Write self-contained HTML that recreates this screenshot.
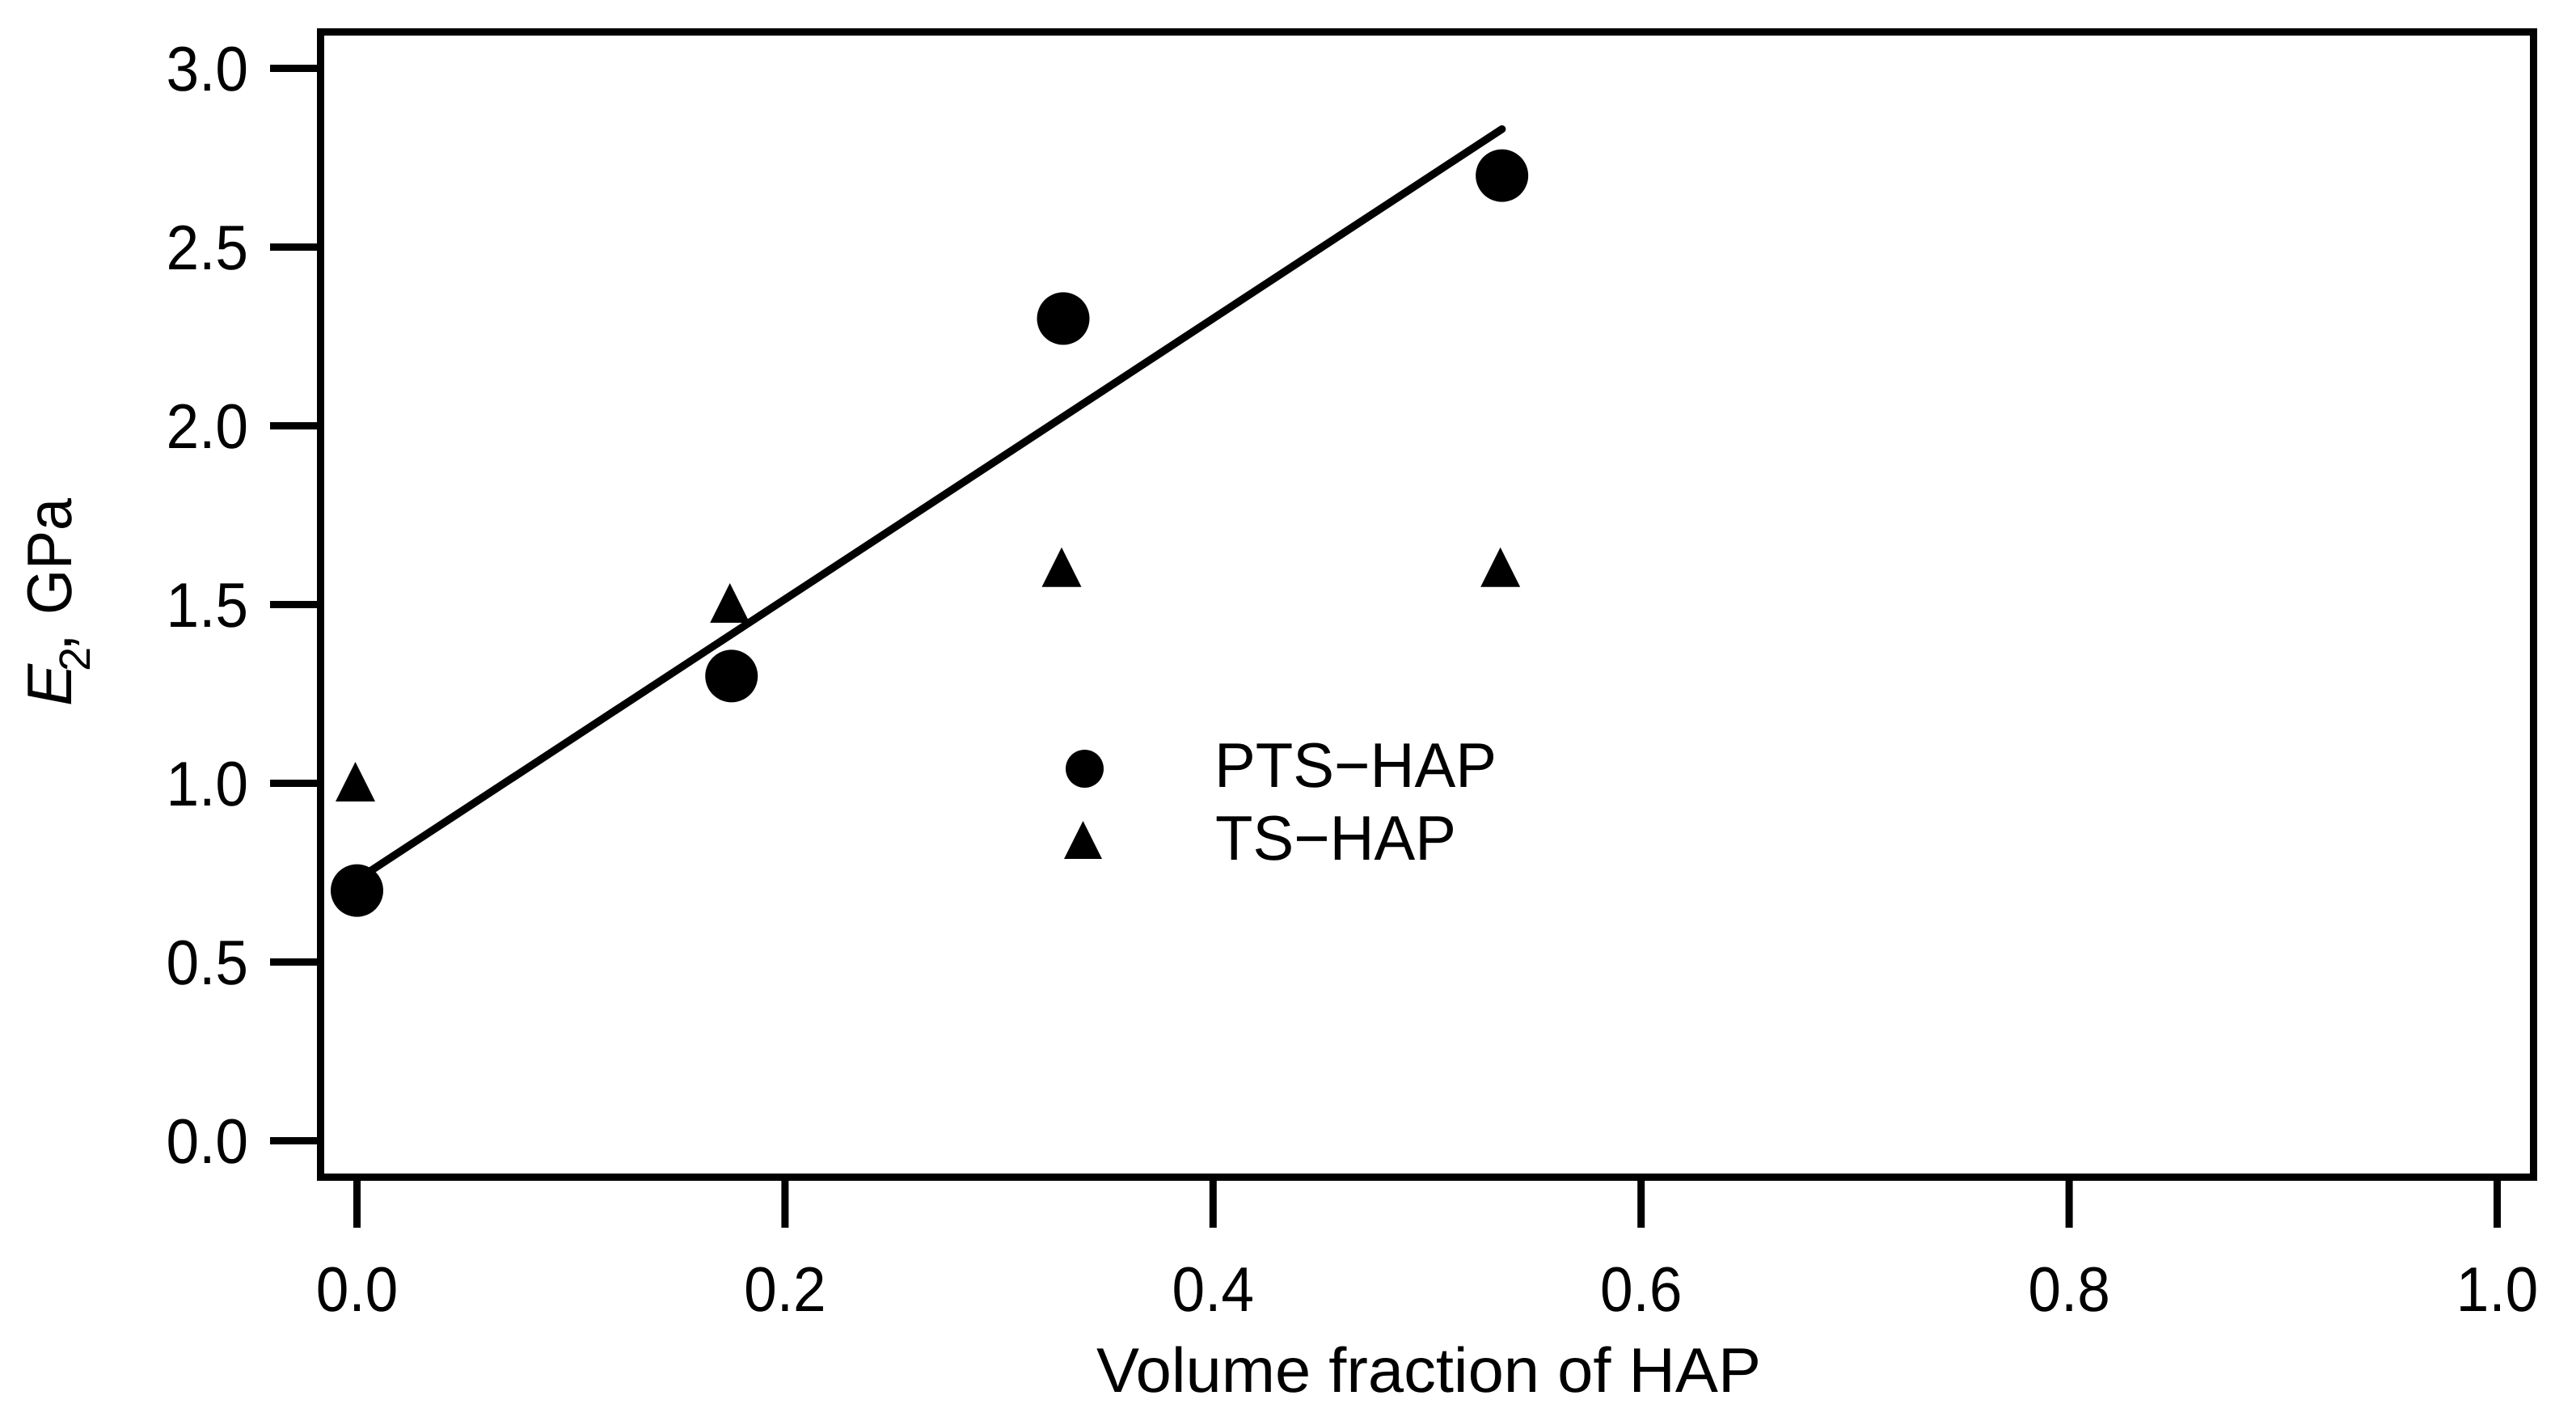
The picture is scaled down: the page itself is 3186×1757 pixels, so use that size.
<!DOCTYPE html>
<html lang="en">
<head>
<meta charset="utf-8">
<title>E2 versus volume fraction of HAP</title>
<style>
  html, body { margin: 0; padding: 0; background: #fff; width: 3186px; height: 1757px; overflow: hidden; }
  svg { display: block; }
  text { font-family: "Liberation Sans", "Noto Sans CJK JP", sans-serif; font-size: 78px; fill: #000; text-rendering: geometricPrecision; }
</style>
</head>
<body>
<svg id="chart" xmlns="http://www.w3.org/2000/svg" width="3186" height="1757" viewBox="0 0 3186 1757">
  <rect x="0" y="0" width="3186" height="1757" fill="#fff"/>
  <g id="y-axis"></g>
  <g id="x-axis"></g>
  <rect x="396.5" y="39.5" width="2737" height="1416" fill="none" stroke="#000" stroke-width="9"/>
  <g id="marks"></g>

  <g>
    <circle cx="1341.5" cy="950.5" r="23.5" fill="#000"/>
    <polygon points="1339.5,1015 1316,1062 1363,1062" fill="#000"/>
    <text x="1502" y="973" textLength="349" lengthAdjust="spacingAndGlyphs">PTS−HAP</text>
    <text x="1503" y="1063" textLength="298" lengthAdjust="spacingAndGlyphs">TS−HAP</text>
  </g>

  <text x="1356" y="1721" textLength="822" lengthAdjust="spacingAndGlyphs">Volume fraction of HAP</text>

  <g transform="translate(88 0) rotate(-90)">
    <text x="-873" y="0" font-style="italic">E</text>
    <text x="-830" y="23" style="font-size:54px">2</text>
    <text x="-805" y="0">,</text>
    <text x="-760" y="0" textLength="144" lengthAdjust="spacingAndGlyphs">GPa</text>
  </g>
</svg>
<script>
const xTickValues = [0, 0.2, 0.4, 0.6, 0.8, 1.0];
const xTickLabels = ["0.0", "0.2", "0.4", "0.6", "0.8", "1.0"];
const yTickValues = [0, 0.5, 1.0, 1.5, 2.0, 2.5, 3.0];
const yTickLabels = ["0.0", "0.5", "1.0", "1.5", "2.0", "2.5", "3.0"];
const volumeFractions = [0, 0.175, 0.33, 0.535];
const ptsHapValues = [0.7, 1.3, 2.3, 2.7];
const tsHapValues = [1.0, 1.5, 1.6, 1.6];
const fitLineX = [0, 0.535];
const fitLineY = [0.73, 2.83];

const NS = "http://www.w3.org/2000/svg";
function xScale(v) { return 441.5 + 2647 * v; }
function yScale(v) { return 1410.5 - 442 * v; }
function make(tag, attrs, parent) {
  const el = document.createElementNS(NS, tag);
  for (const k in attrs) el.setAttribute(k, attrs[k]);
  parent.appendChild(el);
  return el;
}

const yAxis = document.getElementById("y-axis");
yTickValues.forEach(function (v, i) {
  const y = yScale(v);
  const tick = make("line", { x1: 334, x2: 396, y1: y, y2: y, stroke: "#000", "stroke-width": 9 }, yAxis);
  
  
  const label = make("text", { x: 205.5, y: y + 27.5, textLength: 101.5, lengthAdjust: "spacingAndGlyphs" }, yAxis);
  
  
  label.textContent = yTickLabels[i];
});

const xAxis = document.getElementById("x-axis");
xTickValues.forEach(function (v, i) {
  const x = xScale(v);
  const tick = make("line", { x1: x, x2: x, y1: 1456, y2: 1518, stroke: "#000", "stroke-width": 9 }, xAxis);
  
  
  const label = make("text", { x: x, y: 1621, "text-anchor": "middle", textLength: 101.5, lengthAdjust: "spacingAndGlyphs" }, xAxis);
  
  
  label.textContent = xTickLabels[i];
});

const marks = document.getElementById("marks");

const fit = make("line", {
  x1: xScale(fitLineX[0]), y1: yScale(fitLineY[0]),
  x2: xScale(fitLineX[1]), y2: yScale(fitLineY[1]),
  stroke: "#000", "stroke-width": 9.5, "stroke-linecap": "round"
}, marks);



volumeFractions.forEach(function (f, i) {
  const dot = make("circle", { cx: xScale(f), cy: yScale(ptsHapValues[i]), r: 32.5, fill: "#000" }, marks);
  
  
});

volumeFractions.forEach(function (f, i) {
  const cx = xScale(f);
  const cy = yScale(tsHapValues[i]);
  const pts = [(cx - 2) + "," + (cy - 26.5), (cx - 26.5) + "," + (cy + 22.5), (cx + 22.5) + "," + (cy + 22.5)].join(" ");
  const tri = make("polygon", { points: pts, fill: "#000" }, marks);
  
  
});
</script>
</body>
</html>
